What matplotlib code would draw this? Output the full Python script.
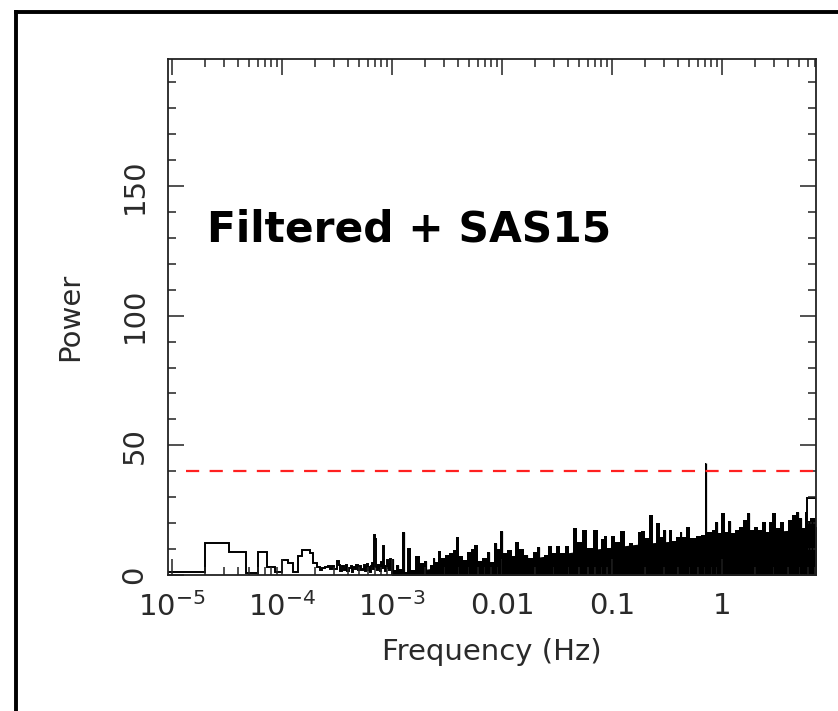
import numpy as np
import matplotlib.pyplot as plt
from matplotlib.lines import Line2D

plt.rcParams['font.family'] = ['DejaVu Sans']
plt.rcParams['mathtext.default'] = 'regular'
plt.rcParams['lines.scale_dashes'] = False

# frequency resolution of the low-frequency bins (Hz)
df = 1.333e-5
# power in bins k = 1..75 (f = k * df)
power_lo = [1.3, 12.5, 9.0, 0.8, 9.0, 3.0, 1.0, 5.6, 4.8, 1.2,
            7.2, 9.8, 9.6, 8.4, 4.6, 3.2, 1.8, 2.6, 3.0, 3.4,
            2.2, 3.6, 2.4, 5.3, 3.8, 1.5, 3.4, 2.0, 3.9, 1.6,
            2.8, 3.5, 1.3, 3.1, 2.2, 3.9, 1.8, 2.7, 3.3, 1.9,
            2.5, 3.8, 1.4, 2.9, 4.2, 2.0, 3.1, 1.2, 3.6, 4.8,
            2.2, 15.4, 13.8, 3.0, 1.8, 4.4, 2.6, 3.7, 1.5, 5.0,
            2.3, 3.4, 11.2, 2.8, 4.0, 1.6, 3.2, 5.9, 2.5, 4.3,
            2.0, 3.6, 6.1, 2.7, 4.1]

# high-frequency part (dense, read as envelope)
freq_hi = [1.03e-3, 1.065e-3, 1.134e-3, 1.207e-3, 1.285e-3, 1.341e-3, 1.427e-3, 1.552e-3,
           1.723e-3, 1.874e-3, 2.038e-3, 2.170e-3, 2.310e-3, 2.409e-3, 2.565e-3, 2.675e-3,
           2.908e-3, 3.162e-3, 3.439e-3, 3.738e-3, 3.898e-3, 4.240e-3, 4.610e-3, 5.012e-3,
           5.450e-3, 5.802e-3, 6.310e-3, 7.006e-3, 7.617e-3, 8.111e-3, 8.820e-3, 9.391e-3,
           1.000e-2, 1.065e-2, 1.182e-2, 1.285e-2, 1.369e-2, 1.488e-2, 1.688e-2, 1.797e-2,
           2.038e-2, 2.170e-2, 2.310e-2, 2.512e-2, 2.732e-2, 2.970e-2, 3.229e-2, 3.585e-2,
           3.898e-2, 4.329e-2, 4.610e-2, 5.117e-2, 5.683e-2, 6.310e-2, 7.153e-2, 7.780e-2,
           8.282e-2, 8.641e-2, 9.391e-2,
           0.1021, 0.1134, 0.1259, 0.1369, 0.1488, 0.1652, 0.1797, 0.1913, 0.2080, 0.2262,
           0.2460, 0.2619, 0.2848, 0.3032, 0.3229, 0.3367, 0.3661, 0.4064, 0.4240, 0.4512,
           0.4908, 0.5450, 0.6178, 0.6719, 0.7006, 0.7153, 0.7305, 0.7780, 0.8459, 0.9006,
           0.9590,
           1.021, 1.110, 1.182, 1.259, 1.369, 1.520, 1.619, 1.760, 1.874, 2.038, 2.215,
           2.409, 2.619, 2.789, 2.970, 3.229, 3.513, 3.818, 4.152, 4.512, 4.908, 5.225,
           5.567, 5.802, 6.178, 6.579]
power_hi = [6.1, 2.0, 3.9, 2.5, 16.5, 1.3, 10.5, 1.9,
            7.3, 4.5, 5.4, 1.3, 3.9, 6.6, 5.1, 9.2,
            6.4, 7.7, 8.6, 9.6, 14.5, 7.3, 5.8, 9.0,
            9.9, 11.6, 5.4, 6.4, 9.0, 5.1, 12.5, 9.9,
            17.1, 8.3, 9.6, 7.3, 12.6, 9.9, 7.7, 6.4,
            9.0, 10.9, 5.1, 7.7, 11.2, 8.3, 11.2, 8.3,
            11.2, 6.4, 18.2, 12.8, 17.5, 10.3, 17.5, 9.6,
            13.8, 15.1, 10.3,
            15.1, 12.8, 17.1, 10.9, 12.3, 10.3, 16.4, 17.1, 14.1, 23.1,
            10.9, 20.2, 14.5, 17.3, 12.2, 17.3, 13.2, 14.5, 16.7, 14.8,
            18.4, 14.1, 15.0, 15.4, 15.4, 43.3, 16.7, 16.7, 17.3, 20.6,
            16.3,
            23.8, 16.7, 21.0, 16.1, 17.3, 18.4, 21.2, 24.0, 17.3, 18.6, 17.3,
            20.6, 16.7, 20.6, 23.8, 18.0, 20.6, 15.4, 21.2, 23.1, 24.4, 21.8,
            18.0, 24.4, 21.0, 22.0]

# level of the solid noise floor under the peaks
floor_freq = [1.0e-3, 2.0e-3, 4.0e-3, 0.01, 0.02, 0.03, 0.05, 0.1, 0.2, 0.4,
              0.7, 1.0, 2.0, 4.0, 7.16]
floor_power = [0.5, 2.0, 3.5, 4.5, 6.5, 7.5, 9.0, 10.5, 12.0, 13.0,
               14.0, 15.0, 16.0, 17.0, 18.5]

# last (wide) bin at the high-frequency end
last_bin_edges = [5.93, 7.16]
last_bin_power = [29.8]

threshold = 40.0
xmin, xmax = 9.2e-6, 7.16
ymin, ymax = 0, 199

fig = plt.figure(figsize=(8.38, 7.11), dpi=100)
ax = fig.add_axes([168/838, 1 - 575/711, 648/838, 516/711])

edges_lo = (np.arange(len(power_lo) + 1) + 0.5) * df
ax.stairs(power_lo, edges_lo, color='black', lw=1.4, baseline=0)

ax.fill_between(floor_freq, 0, floor_power, color='black', lw=0.8, edgecolor='black')
f = np.array(freq_hi)
edges_hi = np.concatenate([[edges_lo[-1]], np.sqrt(f[:-1] * f[1:]), [xmax]])
ax.stairs(power_hi, edges_hi, color='black', fill=True, lw=0)
ax.vlines(freq_hi, 0, power_hi, color='black', lw=0.9)
ax.stairs(last_bin_power, last_bin_edges, color='black', lw=1.4, baseline=0)

ax.plot([df, xmax], [threshold, threshold], color='#ff2020', lw=1.6,
        dashes=(9.5, 7.5))

ax.set_xscale('log')
ax.set_xlim(xmin, xmax)
ax.set_ylim(ymin, ymax)

txt_color = '#2a2a2a'
ax.set_xticks([1e-5, 1e-4, 1e-3, 1e-2, 1e-1, 1])
ax.set_xticklabels(['$10^{-5}$', '$10^{-4}$', '$10^{-3}$', '0.01', '0.1', '1'])
ax.set_yticks([0, 50, 100, 150])
ax.set_yticks(np.arange(0, 200, 10), minor=True)
ax.tick_params(which='both', direction='in', top=True, right=True,
               color='#222222', width=1.1, labelsize=21, labelcolor=txt_color)
ax.tick_params(which='major', length=11.5)
ax.tick_params(which='minor', length=5.8)
ax.tick_params(axis='x', pad=12)
ax.tick_params(axis='y', pad=14, labelrotation=90)
for lab in ax.get_yticklabels():
    lab.set_va('center')
for s in ax.spines.values():
    s.set_color('#222222')
    s.set_linewidth(1.3)

ax.set_xlabel('Frequency (Hz)', fontsize=21, color=txt_color, labelpad=12)
ax.set_ylabel('Power', fontsize=21, color=txt_color, labelpad=26)

ax.text(0.06, 0.647, 'Filtered + SAS15', transform=ax.transAxes,
        fontsize=30.5, fontweight='bold', color='black', va='baseline')

# outer frame (left and top edges visible)
ytop = 1 - 12/711
xleft = 16/838
fig.add_artist(Line2D([xleft, xleft], [0, ytop], color='black', lw=2.8))
fig.add_artist(Line2D([xleft, 1.0], [ytop, ytop], color='black', lw=2.8))

fig.savefig('out.png', dpi=100)
